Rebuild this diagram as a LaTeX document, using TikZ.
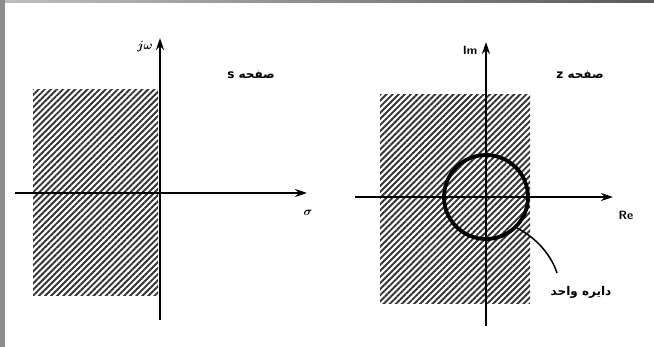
\documentclass[tikz,border=0pt]{standalone}
\usepackage{fontspec}
\usetikzlibrary{patterns.meta,arrows.meta}
\newfontfamily\arabicfont[Script=Arabic]{DejaVu Sans}
\TeXXeTstate=1
\begin{document}
\begin{tikzpicture}[x=1pt,y=-1pt,
  hatch/.style={pattern={Lines[angle=45,distance=4.3pt,line width=1.9pt]},pattern color=black!80},
  axis/.style={line width=2pt,-{Stealth[length=12pt,width=8pt]}},
  lbl/.style={inner sep=0pt,font=\arabicfont\bfseries\fontsize{12}{14}\selectfont},
  mth/.style={inner sep=0pt,font=\boldmath\fontsize{13}{15}\selectfont},
  ltr/.style={inner sep=0pt,font=\sffamily\bfseries\fontsize{12}{14}\selectfont}]
\useasboundingbox (0,0) rectangle (654,347);
\fill[white] (0,0) rectangle (654,347);
\shade[left color=black!25,right color=black!65] (0,0) rectangle (654,3);
\fill[black!45] (0,0) rectangle (5,347);
% left panel
\path[hatch] (33,90) rectangle (158,296);
\coordinate (sb) at (160,320);
\coordinate (st) at (160,38);
\coordinate (sl) at (15,193);
\coordinate (sr) at (307,193);
\draw[axis] (sb) -- (st);
\draw[axis] (sl) -- (sr);
\node[mth] (jw) at (145,47) {$j\omega$};
\node[mth] (sig) at (308,213) {$\sigma$};
\node[lbl] (ps) at (251,75) {\beginR صفحه s\endR};
% right panel
\path[hatch] (380,95) rectangle (530,304);
\coordinate (zb) at (486,326);
\coordinate (zt) at (486,42);
\coordinate (zl) at (355,197);
\coordinate (zr) at (613,197);
\draw[axis] (zb) -- (zt);
\draw[axis] (zl) -- (zr);
\node[ltr] (im) at (470,50) {Im};
\node[ltr] (re) at (626,215) {Re};
\node[lbl] (pz) at (580,75) {\beginR صفحه z\endR};
\node[circle,draw,line width=3.8pt,minimum size=84pt,inner sep=0pt] (uc) at (486,197) {};
\coordinate (le) at (557,273);
\draw[line width=1.5pt] (uc.-45) .. controls (540,240) and (552,258) .. (le);
\node[lbl] (ul) at (581,292) {\beginR دایره واحد\endR};
\end{tikzpicture}
\end{document}
